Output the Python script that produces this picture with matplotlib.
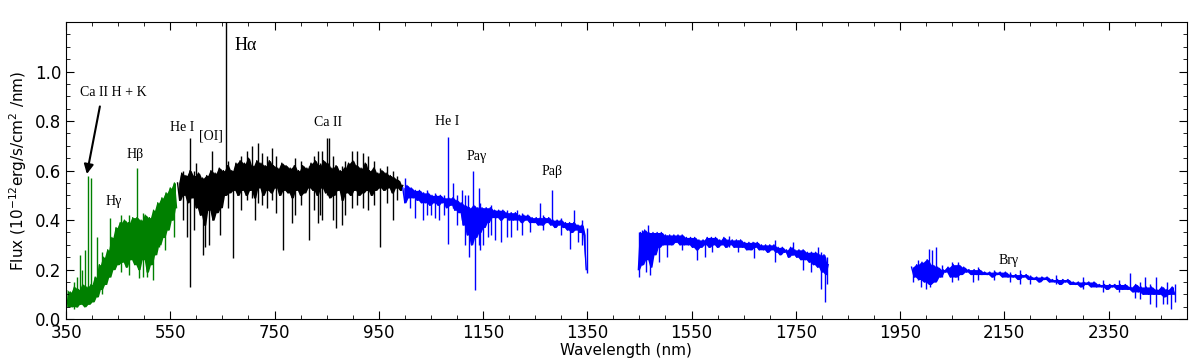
import numpy as np
import matplotlib
matplotlib.use('Agg')
import matplotlib.pyplot as plt
from matplotlib.ticker import MultipleLocator

# ---- spectrum (flux in 1e-12 erg/s/cm2/nm) ----
green_flux = [0.12, 0.05, 0.11, 0.05, 0.13, 0.05, 0.12, 0.06, 0.14, 0.05,
              0.13, 0.06, 0.14, 0.07, 0.17, 0.09, 0.22, 0.12, 0.25, 0.14,
              0.28, 0.17, 0.33, 0.20, 0.37, 0.22, 0.39, 0.23, 0.40, 0.21,
              0.39, 0.24, 0.41, 0.22, 0.41, 0.20, 0.40, 0.24, 0.42, 0.19,
              0.41, 0.22, 0.44, 0.26, 0.47, 0.30, 0.49, 0.33, 0.51, 0.36,
              0.53, 0.40, 0.55, 0.45]
black_flux = [0.55, 0.48, 0.59, 0.50, 0.58, 0.47, 0.60, 0.49, 0.58, 0.45,
              0.59, 0.42, 0.57, 0.38, 0.58, 0.44, 0.60, 0.40, 0.59, 0.43,
              0.61, 0.45, 0.60, 0.50, 0.62, 0.51, 0.60, 0.52, 0.63, 0.50,
              0.64, 0.52, 0.63, 0.50, 0.65, 0.52, 0.62, 0.49, 0.64, 0.53,
              0.63, 0.50, 0.62, 0.52, 0.64, 0.51, 0.62, 0.53, 0.61, 0.50,
              0.63, 0.52, 0.62, 0.51, 0.61, 0.49, 0.62, 0.52, 0.60, 0.50,
              0.62, 0.51, 0.61, 0.53, 0.63, 0.52, 0.64, 0.50, 0.62, 0.53,
              0.64, 0.51, 0.63, 0.49, 0.61, 0.50, 0.62, 0.52, 0.60, 0.48,
              0.61, 0.51, 0.63, 0.50, 0.64, 0.52, 0.62, 0.50, 0.61, 0.51,
              0.63, 0.52, 0.60, 0.50, 0.61, 0.52, 0.59, 0.53, 0.60, 0.52,
              0.59, 0.53, 0.58, 0.51, 0.57, 0.53, 0.56, 0.52, 0.54]
blue1_flux = [0.53, 0.47, 0.54, 0.49, 0.53, 0.49, 0.52, 0.48, 0.52, 0.47,
              0.51, 0.47, 0.51, 0.46, 0.50, 0.47, 0.50, 0.46, 0.50, 0.47,
              0.49, 0.45, 0.49, 0.46, 0.49, 0.44, 0.48, 0.43, 0.47, 0.38,
              0.46, 0.34, 0.45, 0.30, 0.46, 0.33, 0.45, 0.35, 0.45, 0.37,
              0.45, 0.39, 0.45, 0.41, 0.44, 0.41, 0.44, 0.40, 0.44, 0.41,
              0.43, 0.40, 0.43, 0.40, 0.43, 0.40, 0.42, 0.39, 0.42, 0.40,
              0.42, 0.39, 0.41, 0.39, 0.41, 0.38, 0.41, 0.38, 0.41, 0.39,
              0.41, 0.38, 0.40, 0.37, 0.40, 0.38, 0.40, 0.37, 0.39, 0.36,
              0.39, 0.35, 0.39, 0.36, 0.38, 0.35, 0.38, 0.34, 0.20]
blue2_flux = [0.20, 0.35, 0.22, 0.36, 0.24, 0.35, 0.21, 0.35, 0.26, 0.35,
              0.29, 0.35, 0.30, 0.34, 0.30, 0.34, 0.30, 0.34, 0.31, 0.34,
              0.30, 0.34, 0.30, 0.33, 0.30, 0.33, 0.29, 0.33, 0.28, 0.32,
              0.29, 0.32, 0.30, 0.33, 0.29, 0.33, 0.30, 0.33, 0.29, 0.32,
              0.30, 0.33, 0.29, 0.32, 0.30, 0.32, 0.29, 0.32, 0.29, 0.32,
              0.29, 0.31, 0.28, 0.31, 0.28, 0.31, 0.29, 0.31, 0.28, 0.30,
              0.28, 0.30, 0.27, 0.30, 0.28, 0.30, 0.27, 0.29, 0.26, 0.29,
              0.27, 0.28, 0.25, 0.29, 0.26, 0.28, 0.25, 0.28, 0.24, 0.28,
              0.24, 0.27, 0.23, 0.27, 0.22, 0.27, 0.21, 0.26, 0.19, 0.26,
              0.18, 0.22]
blue3_flux = [0.21, 0.17, 0.22, 0.16, 0.23, 0.15, 0.24, 0.14, 0.22, 0.15,
              0.21, 0.17, 0.20, 0.19, 0.21, 0.17, 0.22, 0.17, 0.22, 0.18,
              0.21, 0.19, 0.20, 0.18, 0.20, 0.18, 0.20, 0.18, 0.19, 0.18,
              0.19, 0.17, 0.19, 0.18, 0.19, 0.17, 0.19, 0.17, 0.18, 0.17,
              0.18, 0.16, 0.18, 0.17, 0.18, 0.16, 0.17, 0.16, 0.17, 0.15,
              0.17, 0.16, 0.17, 0.15, 0.16, 0.15, 0.16, 0.14, 0.16, 0.15,
              0.16, 0.14, 0.15, 0.14, 0.15, 0.13, 0.15, 0.14, 0.15, 0.13,
              0.15, 0.13, 0.14, 0.13, 0.14, 0.12, 0.14, 0.13, 0.14, 0.12,
              0.14, 0.12, 0.14, 0.12, 0.13, 0.11, 0.14, 0.11, 0.13, 0.10,
              0.13, 0.10, 0.13, 0.10, 0.12, 0.10, 0.13, 0.09, 0.12, 0.10,
              0.13, 0.10]

# wavelength coverage of each piece (nm): first, last sample
green_range = (350, 562)
black_range = (564, 996)
blue1_range = (996, 1348)
blue2_range = (1448, 1812)
blue3_range = (1972, 2477)

# narrow emission spikes / absorption dips: wavelength, low end, high end
green_line_wl = [365, 372, 377, 381, 386, 393, 397, 409, 420, 434, 455, 470,
                 486, 490, 498, 505, 517, 528, 540, 557]
green_line_lo = [0.04, 0.05, 0.08, 0.06, 0.10, 0.08, 0.08, 0.12, 0.10, 0.25,
                 0.19, 0.18, 0.35, 0.165, 0.17, 0.17, 0.16, 0.29, 0.28, 0.33]
green_line_hi = [0.15, 0.17, 0.26, 0.20, 0.28, 0.58, 0.57, 0.33, 0.27, 0.41,
                 0.42, 0.42, 0.61, 0.35, 0.43, 0.38, 0.40, 0.45, 0.50, 0.55]

black_line_wl = [575, 583, 588, 596, 600, 613, 617, 625, 630, 645, 656, 660,
                 670, 686, 697, 706, 713, 718, 726, 735, 745, 752, 766, 784,
                 790, 800, 817, 826, 833, 838, 842, 850, 854, 862, 867, 880,
                 886, 898, 909, 920, 930, 940, 953, 965, 978, 985]
black_line_lo = [0.40, 0.33, 0.13, 0.36, 0.45, 0.26, 0.29, 0.30, 0.42, 0.34,
                 0.50, 0.45, 0.245, 0.44, 0.48, 0.49, 0.40, 0.47, 0.46, 0.45,
                 0.48, 0.43, 0.28, 0.39, 0.42, 0.46, 0.32, 0.44, 0.39, 0.42,
                 0.40, 0.50, 0.50, 0.40, 0.37, 0.38, 0.42, 0.45, 0.46, 0.45,
                 0.44, 0.46, 0.29, 0.47, 0.40, 0.48]
black_line_hi = [0.60, 0.58, 0.73, 0.60, 0.63, 0.56, 0.57, 0.58, 0.68, 0.60,
                 1.30, 0.64, 0.60, 0.66, 0.68, 0.70, 0.62, 0.71, 0.67, 0.66,
                 0.69, 0.66, 0.62, 0.61, 0.65, 0.64, 0.62, 0.66, 0.68, 0.63,
                 0.68, 0.73, 0.73, 0.66, 0.62, 0.62, 0.64, 0.68, 0.68, 0.67,
                 0.66, 0.64, 0.61, 0.62, 0.60, 0.58]

blue1_line_wl = [1001, 1010, 1020, 1034, 1042, 1050, 1058, 1066, 1075, 1082,
                 1093, 1100, 1110, 1115, 1122, 1124, 1130, 1134, 1142, 1145,
                 1150, 1160, 1165, 1172, 1185, 1195, 1203, 1215, 1225, 1240,
                 1259, 1265, 1282, 1300, 1316, 1325, 1332, 1340, 1349]
blue1_line_lo = [0.48, 0.45, 0.41, 0.40, 0.42, 0.42, 0.41, 0.40, 0.42, 0.305,
                 0.45, 0.38, 0.40, 0.30, 0.40, 0.25, 0.40, 0.117, 0.30, 0.28,
                 0.30, 0.33, 0.34, 0.32, 0.31, 0.33, 0.33, 0.36, 0.34, 0.35,
                 0.39, 0.36, 0.39, 0.34, 0.285, 0.37, 0.31, 0.30, 0.185]
blue1_line_hi = [0.57, 0.53, 0.50, 0.49, 0.52, 0.49, 0.51, 0.48, 0.50, 0.735,
                 0.55, 0.50, 0.52, 0.50, 0.50, 0.44, 0.60, 0.45, 0.53, 0.47,
                 0.45, 0.44, 0.46, 0.44, 0.43, 0.44, 0.43, 0.44, 0.43, 0.41,
                 0.47, 0.42, 0.52, 0.41, 0.39, 0.44, 0.38, 0.40, 0.37]

blue2_line_wl = [1450, 1455, 1462, 1467, 1470, 1488, 1503, 1532, 1560, 1576,
                 1589, 1621, 1640, 1669, 1710, 1742, 1745, 1764, 1780, 1792,
                 1799, 1806, 1810]
blue2_line_lo = [0.17, 0.22, 0.19, 0.26, 0.18, 0.23, 0.25, 0.28, 0.24, 0.25,
                 0.27, 0.29, 0.27, 0.245, 0.23, 0.26, 0.26, 0.20, 0.19, 0.22,
                 0.12, 0.07, 0.14]
blue2_line_hi = [0.35, 0.36, 0.35, 0.38, 0.34, 0.34, 0.34, 0.33, 0.32, 0.32,
                 0.32, 0.335, 0.32, 0.31, 0.32, 0.29, 0.31, 0.28, 0.27, 0.29,
                 0.27, 0.25, 0.25]

blue3_line_wl = [1975, 1985, 1990, 2000, 2005, 2008, 2012, 2018, 2030, 2050,
                 2062, 2090, 2100, 2130, 2160, 2180, 2200, 2250, 2300, 2340,
                 2370, 2392, 2400, 2410, 2420, 2430, 2440, 2455, 2462, 2470,
                 2478]
blue3_line_lo = [0.15, 0.16, 0.13, 0.12, 0.15, 0.13, 0.15, 0.16, 0.17, 0.15,
                 0.16, 0.15, 0.16, 0.16, 0.15, 0.14, 0.14, 0.14, 0.12, 0.11,
                 0.11, 0.12, 0.085, 0.08, 0.11, 0.06, 0.05, 0.06, 0.06, 0.04,
                 0.07]
blue3_line_hi = [0.21, 0.24, 0.22, 0.22, 0.285, 0.22, 0.28, 0.29, 0.22, 0.23,
                 0.23, 0.20, 0.21, 0.20, 0.19, 0.20, 0.18, 0.18, 0.17, 0.16,
                 0.16, 0.185, 0.13, 0.15, 0.17, 0.14, 0.17, 0.13, 0.15, 0.13,
                 0.14]

# line identifications: text, x, y
label_text = ['Ca II H + K', 'Hγ', 'Hβ', 'He I', '[OI]',
              'Ca II', 'He I', 'Paγ', 'Paβ', 'Brγ']
label_x = [440, 441, 482, 572, 628, 852, 1082, 1137, 1283, 2158]
label_y = [0.915, 0.475, 0.665, 0.775, 0.74, 0.795, 0.80, 0.655, 0.595, 0.238]

segments = [
    (green_range, green_flux, green_line_wl, green_line_lo, green_line_hi, 'green'),
    (black_range, black_flux, black_line_wl, black_line_lo, black_line_hi, 'black'),
    (blue1_range, blue1_flux, blue1_line_wl, blue1_line_lo, blue1_line_hi, 'blue'),
    (blue2_range, blue2_flux, blue2_line_wl, blue2_line_lo, blue2_line_hi, 'blue'),
    (blue3_range, blue3_flux, blue3_line_wl, blue3_line_lo, blue3_line_hi, 'blue'),
]

fig = plt.figure(figsize=(12, 3.61), dpi=100)
ax = fig.add_axes([0.055, 0.116, 0.934, 0.823])

for (lo_wl, hi_wl), flux, lwl, llo, lhi, col in segments:
    f = np.asarray(flux)
    wl = np.linspace(lo_wl, hi_wl, len(f))
    # the real spectrum is sampled finer than a pixel: fill the hull
    # between neighbouring samples so the noise reads as a solid band
    mid = 0.5 * (wl[:-1] + wl[1:])
    band_lo = np.minimum(f[:-1], f[1:])
    band_hi = np.maximum(f[:-1], f[1:])
    ax.fill_between(mid, band_lo, band_hi, color=col, lw=0)
    ax.plot(wl, f, color=col, lw=1.0)
    ax.vlines(lwl, llo, lhi, color=col, lw=1.0)

serif = 'Liberation Serif'
for txt, x, y in zip(label_text, label_x, label_y):
    ax.text(x, y, txt, family=serif, fontsize=10, ha='center', va='center')
ax.text(695, 1.105, 'Hα', family=serif, fontsize=13, ha='center', va='center')

# arrow from the Ca II H+K label down to the lines
ax.annotate('', xy=(389, 0.575), xytext=(416, 0.87),
            arrowprops=dict(arrowstyle='-|>', color='black', lw=1.5,
                            mutation_scale=14))

ax.set_xlim(350, 2500)
ax.set_ylim(0, 1.2)
ax.set_xticks([350, 550, 750, 950, 1150, 1350, 1550, 1750, 1950, 2150, 2350])
ax.set_yticks([0.0, 0.2, 0.4, 0.6, 0.8, 1.0])
ax.xaxis.set_minor_locator(MultipleLocator(50))
ax.yaxis.set_minor_locator(MultipleLocator(0.05))
ax.tick_params(which='both', direction='in', top=True, right=True, labelsize=12)
ax.tick_params(which='major', length=6)
ax.tick_params(which='minor', length=3)
ax.set_xlabel('Wavelength (nm)', fontsize=11, labelpad=1)
ax.set_ylabel(r'Flux (10$^{-12}$erg/s/cm$^2$ /nm)', fontsize=11, labelpad=4)

fig.savefig('out.png', dpi=100)
